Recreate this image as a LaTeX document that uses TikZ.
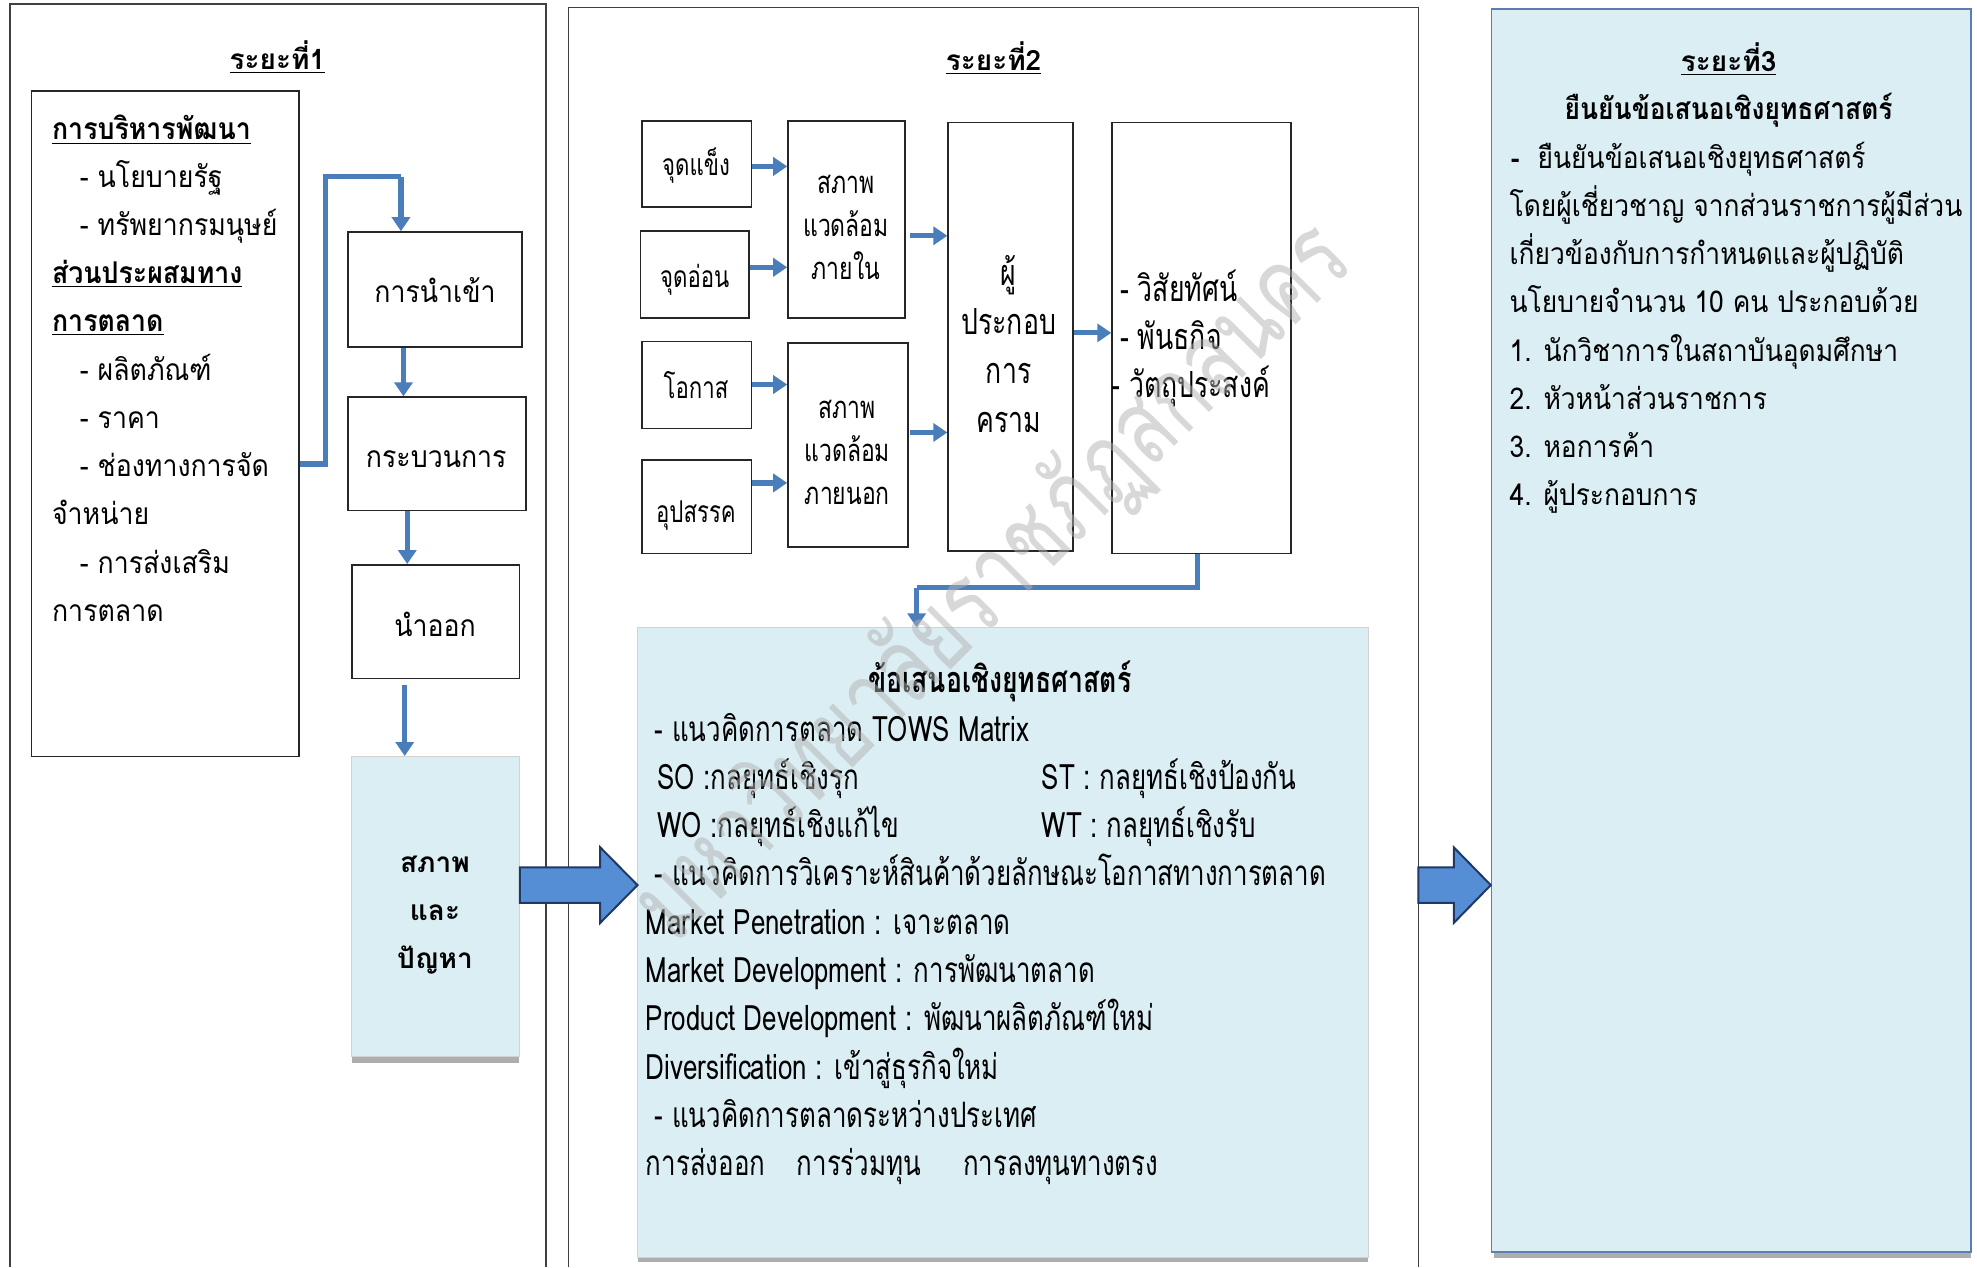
\documentclass[tikz,border=0pt]{standalone}
\usepackage{fontspec}
\newfontfamily\thai[Script=Thai]{Loma}
\newfontfamily\thaiA[Script=Thai,FakeStretch=0.89]{Loma}
\newfontfamily\thaiC[Script=Thai,FakeStretch=0.88]{Loma}
\newfontfamily\thaic[Script=Thai,FakeStretch=0.74]{Loma}
\usetikzlibrary{arrows.meta,fit}
\definecolor{cblue}{HTML}{4A7EBB}
\definecolor{afill}{HTML}{558ED5}
\definecolor{adraw}{HTML}{1F3864}
\definecolor{lblue}{HTML}{DBEEF4}
\definecolor{pblue}{HTML}{5B7DB1}
\definecolor{frame}{HTML}{404040}
\begin{document}
\begin{tikzpicture}[x=0.6304pt,y=-0.6304pt,
  panel/.style={draw=frame,line width=0.8pt},
  box/.style={draw=black!85,line width=0.8pt,inner sep=0pt,fill=white},
  bluebox/.style={fill=lblue,draw=gray!35,line width=0.5pt,inner sep=0pt},
  shadowbar/.style={fill=black!32,draw=none},
  conn/.style={draw=cblue,line width=2.6pt,-{Triangle[width=9pt,length=7pt]}},
  line/.style={draw=cblue,line width=2.6pt},
  bigarrow/.style={draw=adraw,fill=afill,line width=1pt,line join=miter},
  fA/.style={font=\thaiA\fontsize{15}{24}\selectfont},
  fS/.style={font=\thaic\fontsize{15}{24}\selectfont},
  fB/.style={font=\thaic\fontsize{17.5}{24}\selectfont},
  fV/.style={font=\thaic\fontsize{18}{24}\selectfont},
  fC/.style={font=\thaiC\fontsize{15}{24}\selectfont},
  txt/.style={inner sep=0pt,anchor=base west},
  ctxt/.style={inner sep=0pt,anchor=base},
]
\useasboundingbox (0,0) rectangle (1568,1005);
% panels
\draw[panel] (8,1005) -- (8,3) -- (433,3) -- (433,1005);
\draw[panel] (451,1005) -- (451,6) -- (1125,6) -- (1125,1005);
\coordinate (p2r) at (1125,702);
\fill[shadowbar] (1185,990) rectangle (1563,998);
\node[fill=lblue,draw=pblue,line width=0.8pt,inner sep=0pt,fit={(1183,7)(1563,993)}] (p3) {};

% ---------- panel 1
\node[ctxt,font=\thai\fontsize{14}{24}\selectfont] (h1) at (220,55) {\bfseries\underline{ระยะที่1}};
\node[box,fit={(25,72)(237,600)}] (inbox) {};
\node[txt,fA] (l1) at (41,111) {\bfseries\underline{การบริหารพัฒนา}};
\node[txt,fA] (l2) at (63,149) {- นโยบายรัฐ};
\node[txt,fA] (l3) at (63,187) {- ทรัพยากรมนุษย์};
\node[txt,fA] (l4) at (41,225) {\bfseries\underline{ส่วนประผสมทาง}};
\node[txt,fA] (l5) at (41,263) {\bfseries\underline{การตลาด}};
\node[txt,fA] (l6) at (63,302) {- ผลิตภัณฑ์};
\node[txt,fA] (l7) at (63,340) {- ราคา};
\node[txt,fA] (l8) at (63,378) {- ช่องทางการจัด};
\node[txt,fA] (l9) at (41,416) {จำหน่าย};
\node[txt,fA] (l10) at (63,455) {- การส่งเสริม};
\node[txt,fA] (l11) at (41,493) {การตลาด};

\node[box,fit={(276,184)(414,275)}] (imp) {};
\node[ctxt,fA] (impt) at (345,240) {การนำเข้า};
\node[box,fit={(276,315)(417,405)}] (proc) {};
\node[ctxt,fA] (proct) at (346,371) {กระบวนการ};
\node[box,fit={(279,448)(412,538)}] (exp) {};
\node[ctxt,fA] (expt) at (345,505) {นำออก};
\fill[shadowbar] (279,836) rectangle (412,843);
\node[bluebox,fit={(279,600)(412,838)}] (cond) {};
\node[align=center,inner sep=0pt,font=\thai\bfseries\fontsize{14}{24}\selectfont] (condt) at (345,726) {สภาพ\\และ\\ปัญหา};

\draw[line] (inbox.east |- 0,368) -- (258,368) -- (258,140) -- (318,140);
\draw[conn] (318,140) -- (imp.north -| 318,0);
\draw[conn] (imp.south -| 320,0) -- (proc.north -| 320,0);
\draw[conn] (proc.south -| 323,0) -- (exp.north -| 323,0);
\draw[conn] (321,543) -- (cond.north -| 321,0);

% ---------- panel 2
\node[ctxt,font=\thai\fontsize{14}{24}\selectfont] (h2) at (788,56) {\bfseries\underline{ระยะที่2}};
\node[box,fit={(509,96)(596,164)}] (sw1) {};
\node[ctxt,fS] (sw1t) at (552,139) {จุดแข็ง};
\node[box,fit={(508,183)(594,252)}] (sw2) {};
\node[ctxt,fS] (sw2t) at (551,228) {จุดอ่อน};
\node[box,fit={(509,271)(596,340)}] (ot1) {};
\node[ctxt,fS] (ot1t) at (552,316) {โอกาส};
\node[box,fit={(509,365)(596,439)}] (ot2) {};
\node[ctxt,fS] (ot2t) at (552,414) {อุปสรรค};
\node[box,fit={(625,96)(718,252)}] (env1) {};
\node[align=center,inner sep=0pt,font=\thaic\fontsize{15.5}{21.5}\selectfont] (env1t) at (671,180) {สภาพ\\แวดล้อม\\ภายใน};
\node[box,fit={(625,272)(720,434)}] (env2) {};
\node[align=center,inner sep=0pt,font=\thaic\fontsize{15.5}{21.5}\selectfont] (env2t) at (672,359) {สภาพ\\แวดล้อม\\ภายนอก};
\node[box,fit={(752,97)(851,437)}] (ent) {};
\node[align=center,inner sep=0pt,font=\thaic\fontsize{18}{24.4}\selectfont] (entt) at (800,273) {ผู้\\ประกอบ\\การ\\คราม};
\node[box,fit={(882,97)(1024,439)}] (vis) {};
\node[txt,fV] (v1) at (888,239) {- วิสัยทัศน์};
\node[txt,fV] (v2) at (888,277) {- พันธกิจ};
\node[txt,fV] (v3) at (881,315) {- วัตถุประสงค์};

\draw[conn] (sw1.east |- 0,132) -- (env1.west |- 0,132);
\draw[conn] (sw2.east |- 0,212) -- (env1.west |- 0,212);
\draw[conn] (ot1.east |- 0,305) -- (env2.west |- 0,305);
\draw[conn] (ot2.east |- 0,383) -- (env2.west |- 0,383);
\draw[conn] (722,187) -- (ent.west |- 0,187);
\draw[conn] (722,343) -- (ent.west |- 0,343);
\draw[conn] (ent.east |- 0,264) -- (vis.west |- 0,264);

\fill[shadowbar] (506,994) rectangle (1085,1001);
\node[bluebox,fit={(506,498)(1085,997)}] (prop) {};
\draw[line] (vis.south -| 950,0) -- (950,466) -- (727,466);
\draw[conn] (727,466) -- (prop.north -| 727,0);

\node[ctxt,font=\thaic\bfseries\fontsize{18}{24}\selectfont] (pt) at (793,549) {ข้อเสนอเชิงยุทธศาสตร์};
\node[txt,fB] (q1) at (519,588) {- แนวคิดการตลาด TOWS Matrix};
\node[txt,fB] (q2) at (521,626) {SO :กลยุทธ์เชิงรุก};
\node[txt,fB] (q2b) at (826,626) {ST : กลยุทธ์เชิงป้องกัน};
\node[txt,fB] (q3) at (521,664) {WO :กลยุทธ์เชิงแก้ไข};
\node[txt,fB] (q3b) at (826,664) {WT : กลยุทธ์เชิงรับ};
\node[txt,fB] (q4) at (519,702) {- แนวคิดการวิเคราะห์สินค้าด้วยลักษณะโอกาสทางการตลาด};
\node[txt,fB] (q5) at (512,741) {Market Penetration : เจาะตลาด};
\node[txt,fB] (q6) at (512,779) {Market Development : การพัฒนาตลาด};
\node[txt,fB] (q7) at (512,817) {Product Development : พัฒนาผลิตภัณฑ์ใหม่};
\node[txt,fB] (q8) at (512,856) {Diversification : เข้าสู่ธุรกิจใหม่};
\node[txt,fB] (q9) at (519,894) {- แนวคิดการตลาดระหว่างประเทศ};
\node[txt,fB] (q10) at (512,932) {การส่งออก\hspace{0.9em}การร่วมทุน\hspace{1.2em}การลงทุนทางตรง};

% block arrows
\draw[bigarrow] (cond.east |- 0,688) -- (476,688) -- (476,672) -- (prop.west |- 0,702)
   -- (476,732) -- (476,716) -- (cond.east |- 0,716) -- cycle;
\draw[bigarrow] (p2r |- 0,688) -- (1153,688) -- (1153,672) -- (p3.west |- 0,702)
   -- (1153,732) -- (1153,716) -- (p2r |- 0,716) -- cycle;

% ---------- panel 3
\node[ctxt,font=\thai\fontsize{14}{24}\selectfont] (h3) at (1371,57) {\bfseries\underline{ระยะที่3}};
\node[ctxt,font=\thaiC\bfseries\fontsize{15}{24}\selectfont] (h3b) at (1371,95) {ยืนยันข้อเสนอเชิงยุทธศาสตร์};
\node[txt,fC] (r1) at (1198,134) {{\bfseries -}\hspace{0.6em}ยืนยันข้อเสนอเชิงยุทธศาสตร์};
\node[txt,fC] (r2) at (1197,172) {โดยผู้เชี่ยวชาญ จากส่วนราชการผู้มีส่วน};
\node[txt,fC] (r3) at (1197,210) {เกี่ยวข้องกับการกำหนดและผู้ปฏิบัติ};
\node[txt,fC] (r4) at (1197,248) {นโยบายจำนวน 10 คน ประกอบด้วย};
\node[txt,fC] (r5) at (1197,287) {1. นักวิชาการในสถาบันอุดมศึกษา};
\node[txt,fC] (r6) at (1197,325) {2. หัวหน้าส่วนราชการ};
\node[txt,fC] (r7) at (1197,363) {3. หอการค้า};
\node[txt,fC] (r8) at (1197,401) {4. ผู้ประกอบการ};

% watermark
\node[rotate=45,text=gray!60,opacity=0.5,inner sep=0pt,font=\thaic\fontsize{53}{53}\selectfont] (wm) at (788,462) {มหาวิทยาลัยราชภัฏสกลนคร};
\end{tikzpicture}
\end{document}
